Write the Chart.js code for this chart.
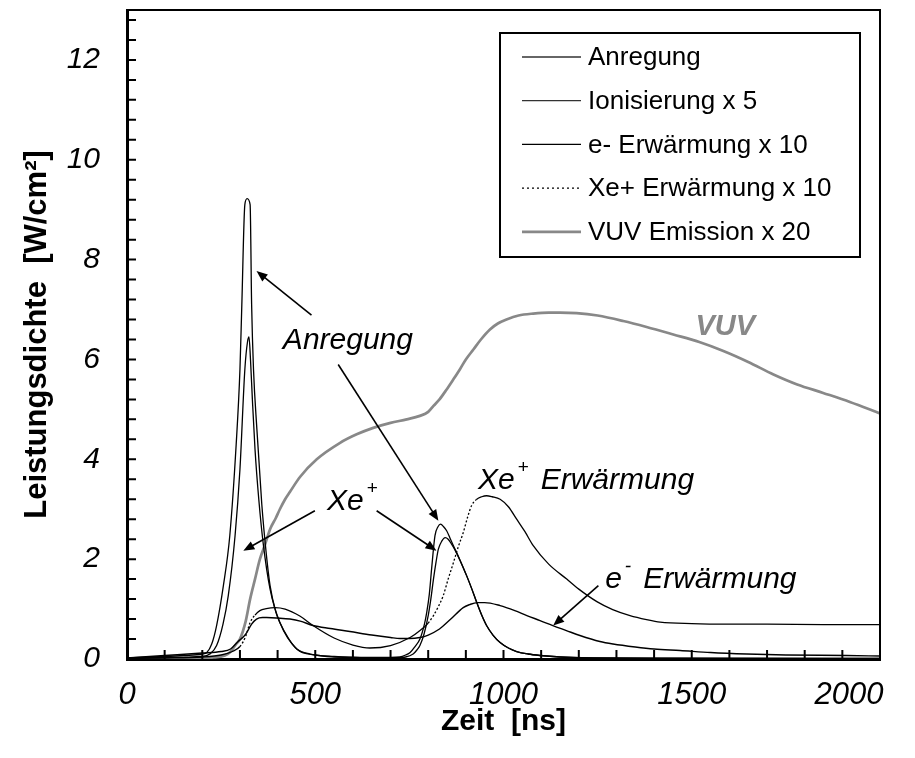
<!DOCTYPE html>
<html>
<head>
<meta charset="utf-8">
<script src="https://cdn.jsdelivr.net/npm/chart.js@4.4.0/dist/chart.umd.min.js"></script>
<style>
html,body{margin:0;padding:0;background:#fff;}
#wrap{width:915px;height:758px;}
</style>
</head>
<body>
<div id="wrap"><canvas id="chart" width="915" height="758"></canvas></div>
<script>
// Zeit in ns, Leistungsdichte in W/cm²
const anregungT = [0,100,150,200,212,225,238,256,273,290,300,305,313,319,327,331,336,345,358,370,380,395,406,430,451,486,550,650,700,725,740,752,765,778,790,796,803,809,818,826,833,841,849,858,867,885,902,916,929,942,955,972,991,1013,1035,1065,1097,1150,1250,1400,1600,2000];
const anregungY = [0.02,0.05,0.07,0.1,0.13,0.3,0.67,1.47,2.47,4.3,5.8,7.1,9.1,9.22,9.1,7.1,5.8,4.6,3.1,2.1,1.47,0.95,0.73,0.4,0.2,0.1,0.05,0.03,0.03,0.04,0.08,0.13,0.25,0.4,0.7,0.93,1.3,1.8,2.47,2.65,2.7,2.65,2.57,2.42,2.27,1.97,1.67,1.4,1.13,0.88,0.67,0.48,0.33,0.22,0.15,0.1,0.07,0.04,0.02,0.01,0.01,0.01];

const ionT = [0,100,200,220,238,255,269,287,300,313,320,324,328,333,340,350,362,380,406,451,500,600,700,740,760,770,778,789,800,807,814,821,827,836,845,853,862,870,885,902,916,929,942,955,972,991,1013,1035,1065,1097,1150,1250,2000];
const ionY = [0.02,0.03,0.05,0.1,0.27,0.7,1.27,2.47,3.8,5.8,6.35,6.45,6.0,5.2,4.2,3.2,2.3,1.4,0.73,0.2,0.08,0.03,0.02,0.04,0.1,0.18,0.27,0.5,0.87,1.2,1.6,1.95,2.2,2.36,2.43,2.4,2.3,2.2,1.97,1.67,1.4,1.13,0.88,0.67,0.48,0.33,0.22,0.15,0.1,0.07,0.04,0.02,0.01];

const elekT = [0,100,200,250,275,295,310,318,331,344,360,371,400,433,460,494,540,592,650,700,725,750,778,800,830,860,893,910,930,950,991,1030,1062,1097,1131,1167,1203,1256,1291,1350,1400,1469,1550,1646,1750,1911,2000];
const elekY = [0.02,0.07,0.12,0.15,0.2,0.35,0.45,0.53,0.7,0.8,0.83,0.83,0.82,0.8,0.76,0.67,0.61,0.55,0.48,0.43,0.41,0.41,0.43,0.48,0.6,0.8,1.03,1.09,1.13,1.13,1.07,0.97,0.87,0.77,0.67,0.57,0.47,0.35,0.3,0.24,0.2,0.17,0.13,0.1,0.08,0.07,0.06];

const ionHeizT = [0,100,200,250,280,300,315,327,340,353,370,393,420,459,494,550,600,645,700,752,780,800,814,827,840,853,867,880,893,905,915,929,942,955,970,991,1013,1035,1057,1079,1120,1168,1200,1248,1290,1336,1380,1416,1500,1600,1700,1850,2000];
const ionHeizY = [0.01,0.02,0.04,0.08,0.15,0.25,0.45,0.73,0.88,0.97,1.01,1.03,1.0,0.86,0.67,0.42,0.28,0.22,0.27,0.43,0.58,0.72,0.87,1.05,1.27,1.6,1.93,2.25,2.53,2.85,3.07,3.2,3.25,3.27,3.25,3.2,3.05,2.8,2.55,2.27,1.9,1.6,1.4,1.15,0.99,0.87,0.79,0.74,0.71,0.7,0.7,0.69,0.69];

const vuvT = [0,150,230,260,273,290,300,315,327,340,353,367,380,395,406,420,433,460,504,566,610,654,700,743,778,800,814,830,849,865,884,900,920,940,964,985,1008,1040,1079,1120,1150,1194,1250,1318,1380,1451,1520,1584,1650,1717,1780,1849,1920,2000];
const vuvY = [0,0.01,0.03,0.07,0.13,0.3,0.4,0.75,1.2,1.6,2.0,2.3,2.6,2.82,3.0,3.2,3.35,3.65,4.0,4.33,4.5,4.63,4.73,4.8,4.87,4.95,5.07,5.2,5.4,5.58,5.8,6.0,6.2,6.4,6.6,6.72,6.8,6.88,6.92,6.94,6.94,6.93,6.88,6.77,6.65,6.5,6.35,6.17,5.95,5.7,5.5,5.33,5.15,4.92];

const seriesNames = ['Anregung', 'Ionisierung x 5', 'e- Erwärmung x 10', 'Xe+ Erwärmung x 10', 'VUV Emission x 20'];
const xTicks = [0, 500, 1000, 1500, 2000];
const yTicks = [0, 2, 4, 6, 8, 10, 12];

const pts = (t, v) => t.map((x, i) => ({x: x, y: v[i]}));
const FONT = '"Liberation Sans", Arial, sans-serif';

// gepunktet nur in steilen Anstiegen, sonst wirkt die Linie durchgezogen
const steepDash = c => {
  const dx = c.p1.parsed.x - c.p0.parsed.x;
  return dx > 0 && (c.p1.parsed.y - c.p0.parsed.y) / dx > 0.008 ? [2, 2] : undefined;
};

const base = {showLine: true, pointRadius: 0, fill: false, cubicInterpolationMode: 'monotone'};

const datasets = [
  Object.assign({label: seriesNames[0], data: pts(anregungT, anregungY), borderColor: '#000', borderWidth: 1.3, legendColor: '#333'}, base),
  Object.assign({label: seriesNames[1], data: pts(ionT, ionY), borderColor: '#000', borderWidth: 1.3, legendColor: '#333'}, base),
  Object.assign({label: seriesNames[2], data: pts(elekT, elekY), borderColor: '#000', borderWidth: 1.4, legendColor: '#000'}, base),
  Object.assign({label: seriesNames[3], data: pts(ionHeizT, ionHeizY), borderColor: '#000', borderWidth: 1.3, legendColor: '#000', legendDash: [2, 3], segment: {borderDash: steepDash}}, base),
  Object.assign({label: seriesNames[4], data: pts(vuvT, vuvY), borderColor: '#888', borderWidth: 2.7, legendColor: '#888'}, base)
];

function arrow(ctx, x1, y1, x2, y2) {
  const ang = Math.atan2(y2 - y1, x2 - x1);
  const len = 11, half = 4.5;
  ctx.beginPath();
  ctx.moveTo(x1, y1);
  ctx.lineTo(x2 - Math.cos(ang) * len * 0.6, y2 - Math.sin(ang) * len * 0.6);
  ctx.stroke();
  ctx.beginPath();
  ctx.moveTo(x2, y2);
  ctx.lineTo(x2 - Math.cos(ang) * len - Math.sin(ang) * half, y2 - Math.sin(ang) * len + Math.cos(ang) * half);
  ctx.lineTo(x2 - Math.cos(ang) * len + Math.sin(ang) * half, y2 - Math.sin(ang) * len - Math.cos(ang) * half);
  ctx.closePath();
  ctx.fill();
}

// Beschriftung mit hochgestelltem Zeichen, z.B. Xe⁺
function supText(ctx, x, y, main, sup, rest) {
  ctx.font = 'italic 30px ' + FONT;
  ctx.fillText(main, x, y);
  let w = ctx.measureText(main).width;
  ctx.font = 'italic 19px ' + FONT;
  ctx.fillText(sup, x + w + 3, y - 16);
  w += ctx.measureText(sup).width + 3;
  if (rest) {
    ctx.font = 'italic 30px ' + FONT;
    ctx.fillText(rest, x + w + 12, y);
  }
}

// keine automatischen Ränder für überstehende Achsenbeschriftungen
const noMargins = s => { s.paddingLeft = s.paddingRight = s.paddingTop = s.paddingBottom = 0; };

// letzte Beschriftung nach innen gerückt, damit sie im Bild bleibt
const xLabel = v => v === 2000 ? '2000\u2002\u2002\u2002\u2002' : String(v);

const decor = {
  id: 'decor',
  afterDraw(chart) {
    const {ctx, chartArea: a, scales: {x, y}} = chart;
    const X = v => x.getPixelForValue(v), Y = v => y.getPixelForValue(v);
    ctx.save();

    // Rahmen oben und rechts
    ctx.strokeStyle = '#000';
    ctx.lineWidth = 2;
    ctx.beginPath();
    ctx.moveTo(a.left, a.top);
    ctx.lineTo(a.right, a.top);
    ctx.lineTo(a.right, a.bottom);
    ctx.stroke();

    // Teilstriche nach innen
    ctx.beginPath();
    for (let v = 0; v <= 2000; v += 100) {
      ctx.moveTo(X(v), a.bottom);
      ctx.lineTo(X(v), a.bottom - 9);
    }
    for (let i = 0; i <= 32; i++) {
      ctx.moveTo(a.left, Y(i * 0.4));
      ctx.lineTo(a.left + 9, Y(i * 0.4));
    }
    ctx.stroke();

    // Legende
    const lx = 500, ly = 33, lw = 360, lh = 224;
    ctx.fillStyle = '#fff';
    ctx.fillRect(lx, ly, lw, lh);
    ctx.lineWidth = 2;
    ctx.strokeRect(lx, ly, lw, lh);
    ctx.font = '26px ' + FONT;
    ctx.textBaseline = 'middle';
    chart.data.datasets.forEach((ds, i) => {
      const ry = ly + 24 + i * 43.7;
      ctx.strokeStyle = ds.legendColor;
      ctx.lineWidth = ds.borderWidth;
      ctx.setLineDash(ds.legendDash || []);
      ctx.beginPath();
      ctx.moveTo(lx + 22, ry);
      ctx.lineTo(lx + 81, ry);
      ctx.stroke();
      ctx.setLineDash([]);
      ctx.fillStyle = '#000';
      ctx.fillText(ds.label, lx + 88, ry + 1);
    });

    // Pfeile
    ctx.strokeStyle = '#000';
    ctx.fillStyle = '#000';
    ctx.lineWidth = 1.6;
    arrow(ctx, X(490), Y(6.89), X(344), Y(7.77));
    arrow(ctx, X(561), Y(5.9), X(827), Y(2.77));
    arrow(ctx, X(499), Y(2.97), X(309), Y(2.17));
    arrow(ctx, X(663), Y(2.97), X(822), Y(2.17));
    arrow(ctx, X(1252), Y(1.47), X(1132), Y(0.67));

    // Beschriftungen im Diagramm
    ctx.textBaseline = 'alphabetic';
    ctx.fillStyle = '#000';
    ctx.font = 'italic 30px ' + FONT;
    ctx.fillText('Anregung', X(414), Y(6.2));
    supText(ctx, X(531), Y(2.99), 'Xe', '+');
    supText(ctx, X(932), Y(3.4), 'Xe', '+', 'Erwärmung');
    supText(ctx, X(1270), Y(1.43), 'e', '-', 'Erwärmung');
    ctx.fillStyle = '#888';
    ctx.font = 'italic bold 29px ' + FONT;
    ctx.fillText('VUV', X(1510), Y(6.5));
    ctx.restore();
  }
};

new Chart(document.getElementById('chart'), {
  type: 'scatter',
  data: {datasets: datasets},
  options: {
    responsive: false,
    animation: false,
    events: [],
    layout: {padding: {top: 10, right: 35, left: 0, bottom: 0}},
    plugins: {legend: {display: false}, tooltip: {enabled: false}},
    scales: {
      x: {
        type: 'linear', min: 0, max: 2000,
        afterBuildTicks: s => { s.ticks = xTicks.map(v => ({value: v})); },
        afterFit: s => { s.height = 99; noMargins(s); },
        grid: {display: false, drawTicks: false},
        border: {display: true, color: '#000', width: 3},
        ticks: {color: '#000', padding: 18, maxRotation: 0, callback: xLabel, font: {family: FONT, size: 31, style: 'italic'}},
        title: {display: true, text: 'Zeit  [ns]', color: '#000', padding: {top: 0, bottom: 18}, font: {family: FONT, size: 30, weight: 'bold'}}
      },
      y: {
        type: 'linear', min: 0, max: 13,
        afterBuildTicks: s => { s.ticks = yTicks.map(v => ({value: v})); },
        afterFit: s => { s.width = 127; noMargins(s); },
        grid: {display: false, drawTicks: false},
        border: {display: true, color: '#000', width: 3},
        ticks: {color: '#000', padding: 27, callback: v => String(v), font: {family: FONT, size: 30, style: 'italic'}},
        title: {display: true, text: 'Leistungsdichte  [W/cm²]', color: '#000', padding: {top: 19, bottom: 0}, font: {family: FONT, size: 31, weight: 'bold'}}
      }
    }
  },
  plugins: [decor]
});
</script>
</body>
</html>
